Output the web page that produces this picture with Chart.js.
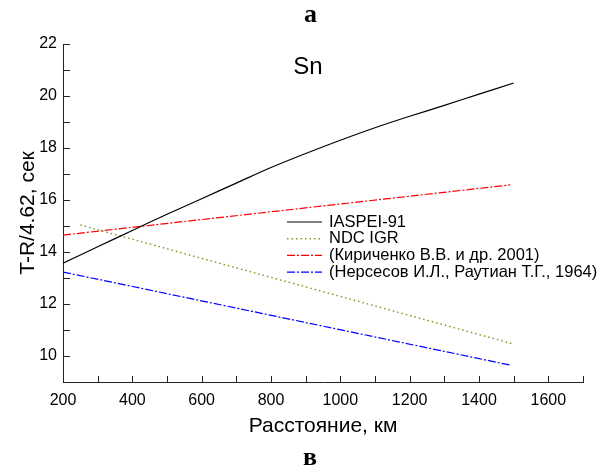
<!DOCTYPE html>
<html>
<head>
<meta charset="utf-8">
<script src="https://cdn.jsdelivr.net/npm/chart.js@4"></script>
<style>
  html, body { margin: 0; padding: 0; background: #fff; }
  #wrap { width: 605px; height: 467px; }
</style>
</head>
<body>
<div id="wrap"><canvas id="myChart" width="605" height="467"></canvas></div>
<script>
// distances (km) and travel-time values
const distIaspei = [200, 300, 400, 500, 600, 700, 800, 900, 1000, 1100, 1200, 1300, 1400, 1500];
const valIaspei = [13.57, 14.2, 14.83, 15.45, 16.05, 16.65, 17.25, 17.79, 18.3, 18.78, 19.22, 19.64, 20.07, 20.5];

const distNdc = [250, 1500];
const valNdc = [15.04, 10.46];

const distKirichenko = [200, 1490];
const valKirichenko = [14.65, 16.58];

const distNersesov = [200, 1490];
const valNersesov = [13.23, 9.65];

const seriesNames = ['IASPEI-91', 'NDC IGR', '(Кириченко В.В. и др. 2001)', '(Нерсесов И.Л., Раутиан Т.Г., 1964)'];

const xTickStep = 100, xLabelStep = 200;
const yTickStep = 1, yLabelStep = 2;

const toPoints = (xs, ys) => xs.map((x, i) => ({ x: x, y: ys[i] }));

const SANS = "'Liberation Sans', Arial, sans-serif";
const SERIF = "'Liberation Serif', 'Times New Roman', serif";

// inward tick marks, text labels and legend drawn on top
const extras = {
    id: 'extras',
    afterDraw(chart) {
        const ctx = chart.ctx;
        const xs = chart.scales.x, ys = chart.scales.y;
        const area = chart.chartArea;
        ctx.save();
        ctx.strokeStyle = '#222';
        ctx.lineWidth = 1;
        ctx.beginPath();
        xs.ticks.forEach(t => {
            const px = Math.round(xs.getPixelForValue(t.value)) + 0.5;
            ctx.moveTo(px, area.bottom);
            ctx.lineTo(px, area.bottom - 6);
        });
        ys.ticks.forEach(t => {
            const py = Math.round(ys.getPixelForValue(t.value)) + 0.5;
            ctx.moveTo(area.left, py);
            ctx.lineTo(area.left + 7, py);
        });
        ctx.stroke();

        // panel letters and label
        ctx.fillStyle = '#000';
        ctx.textAlign = 'center';
        ctx.textBaseline = 'alphabetic';
        ctx.font = 'bold 26px ' + SERIF;
        ctx.fillText('а', 310.5, 22);
        ctx.fillText('в', 310, 465);
        ctx.font = '24px ' + SANS;
        ctx.fillText('Sn', 308, 74);

        // legend
        const lx = 287, lw = 35, tx = 329, ly = 222, lh = 16.7;
        ctx.textAlign = 'left';
        ctx.textBaseline = 'middle';
        ctx.font = '16.5px ' + SANS;
        chart.data.datasets.forEach((ds, i) => {
            const y = ly + i * lh;
            ctx.strokeStyle = ds.borderColor;
            ctx.lineWidth = ds.borderWidth;
            ctx.setLineDash(ds.borderDash || []);
            ctx.beginPath();
            ctx.moveTo(lx, y);
            ctx.lineTo(lx + lw, y);
            ctx.stroke();
            ctx.setLineDash([]);
            ctx.fillStyle = '#000';
            ctx.fillText(ds.label, tx, y);
        });
        ctx.restore();
    }
};

const ctx = document.getElementById('myChart').getContext('2d');
const myChart = new Chart(ctx, {
    type: 'line',
    data: {
        datasets: [
            {
                label: seriesNames[0],
                data: toPoints(distIaspei, valIaspei),
                borderColor: '#000000',
                borderWidth: 1.2,
                pointRadius: 0,
                tension: 0.3,
                fill: false
            },
            {
                label: seriesNames[1],
                data: toPoints(distNdc, valNdc),
                borderColor: '#8c8c1e',
                borderWidth: 1.4,
                borderDash: [1.5, 3],
                pointRadius: 0,
                fill: false
            },
            {
                label: seriesNames[2],
                data: toPoints(distKirichenko, valKirichenko),
                borderColor: '#ff0000',
                borderWidth: 1.2,
                borderDash: [8, 2, 2, 2],
                pointRadius: 0,
                fill: false
            },
            {
                label: seriesNames[3],
                data: toPoints(distNersesov, valNersesov),
                borderColor: '#0000ff',
                borderWidth: 1.2,
                borderDash: [8, 2, 2, 2],
                pointRadius: 0,
                fill: false
            }
        ]
    },
    options: {
        responsive: false,
        animation: false,
        layout: { padding: { left: 0, top: 44, right: 22, bottom: 0 } },
        plugins: {
            legend: { display: false },
            tooltip: { enabled: false }
        },
        scales: {
            x: {
                type: 'linear',
                min: 200,
                max: 1700,
                afterFit: s => { s.height = 85; },
                grid: { display: false, drawTicks: false },
                border: { display: true, color: '#222', width: 1 },
                ticks: {
                    stepSize: xTickStep,
                    autoSkip: false,
                    maxRotation: 0,
                    includeBounds: false,
                    padding: 9,
                    color: '#000',
                    font: { family: SANS, size: 16 },
                    callback: v => (v % xLabelStep === 0 ? v : '')
                },
                title: {
                    display: true,
                    text: 'Расстояние, км',
                    color: '#000',
                    font: { family: SANS, size: 21 },
                    padding: { top: 0, bottom: 28 }
                }
            },
            y: {
                type: 'linear',
                min: 9,
                max: 22,
                afterFit: s => { s.width = 63; },
                grid: { display: false, drawTicks: false },
                border: { display: true, color: '#222', width: 1 },
                ticks: {
                    stepSize: yTickStep,
                    autoSkip: false,
                    includeBounds: false,
                    padding: 6,
                    color: '#000',
                    font: { family: SANS, size: 16 },
                    callback: v => (v % yLabelStep === 0 && v >= 10 ? v : '')
                },
                title: {
                    display: true,
                    text: 'T-R/4.62, сек',
                    color: '#000',
                    font: { family: SANS, size: 21 },
                    padding: { top: 16, bottom: 0 }
                }
            }
        }
    },
    plugins: [extras]
});
</script>
</body>
</html>
